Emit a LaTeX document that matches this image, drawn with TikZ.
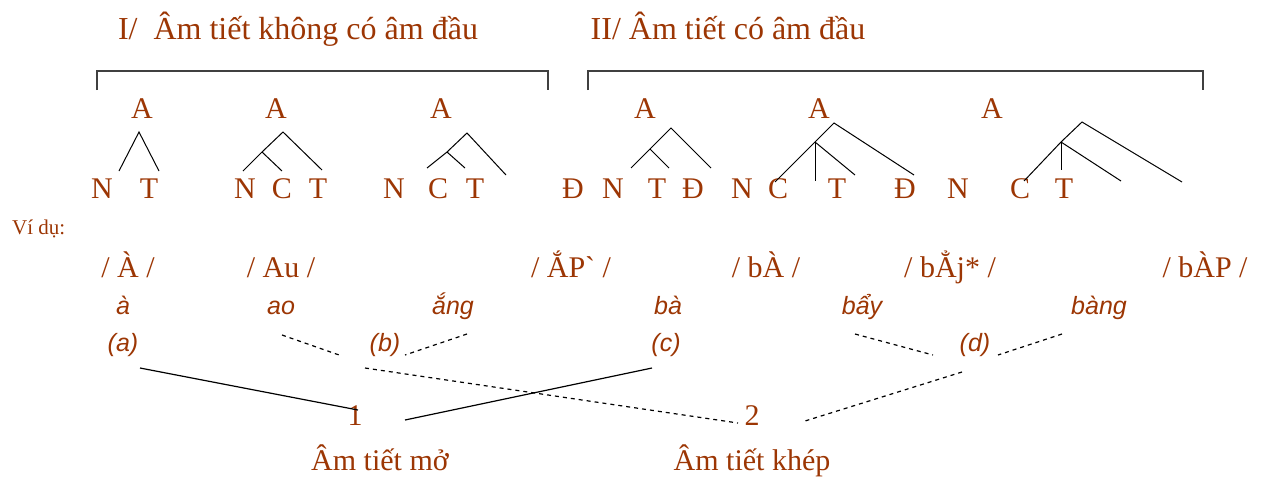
\documentclass[tikz,border=0pt]{standalone}
\usepackage{fontspec}
\setmainfont{Liberation Serif}
\newfontfamily\exfont{Liberation Sans}
\definecolor{rust}{RGB}{156,54,4}

\tikzset{
  head/.style={text=rust, inner sep=0pt, anchor=base, font=\fontsize{32}{38}\selectfont},
  lbl/.style={text=rust, inner sep=0pt, anchor=base, font=\fontsize{30}{36}\selectfont},
  word/.style={text=rust, inner sep=0pt, anchor=base, font=\exfont\itshape\fontsize{25}{30}\selectfont},
  branch/.style={black, line width=1pt},
  bracket/.style={black!75, line width=1.5pt},
  openlink/.style={black, line width=1.2pt},
  closedlink/.style={black, line width=1.2pt, dash pattern=on 4pt off 4pt}
}

\begin{document}
\begin{tikzpicture}[x=1pt,y=-1pt]
\useasboundingbox (0,0) rectangle (1265,477);

% headings and brackets
\node[head] (titleI) at (298,39) {I/\ \ Âm tiết không có âm đầu};
\node[head] (titleII) at (728,39) {II/ Âm tiết có âm đầu};
\coordinate (brIa) at (97,90);  \coordinate (brIb) at (548,90);
\coordinate (brIIa) at (588,90); \coordinate (brIIb) at (1203,90);
\draw[bracket] (brIa) -- ++(0,-19) -| (brIb);
\draw[bracket] (brIIa) -- ++(0,-19) -| (brIIb);

% roots
\node[lbl] (rootA) at (142,118) {A};
\node[lbl] (rootB) at (276,118) {A};
\node[lbl] (rootC) at (441,118) {A};
\node[lbl] (rootD) at (645,118) {A};
\node[lbl] (rootE) at (819,118) {A};
\node[lbl] (rootF) at (992,118) {A};

% segment labels
\node[lbl] (nA) at (102,198) {N};
\node[lbl] (tA) at (149,198) {T};
\node[lbl] (nB) at (245,198) {N};
\node[lbl] (cB) at (282,198) {C};
\node[lbl] (tB) at (318,198) {T};
\node[lbl] (nC) at (394,198) {N};
\node[lbl] (cC) at (438,198) {C};
\node[lbl] (tC) at (475,198) {T};
\node[lbl] (dD) at (573,198) {Đ};
\node[lbl] (nD) at (613,198) {N};
\node[lbl] (tD) at (657,198) {T};
\node[lbl] (eD) at (693,198) {Đ};
\node[lbl] (nE) at (742,198) {N};
\node[lbl] (cE) at (778,198) {C};
\node[lbl] (tE) at (837,198) {T};
\node[lbl] (eE) at (905,198) {Đ};
\node[lbl] (nF) at (958,198) {N};
\node[lbl] (cF) at (1020,198) {C};
\node[lbl] (tF) at (1064,198) {T};

% trees
\coordinate (apA) at (139,132);
\coordinate (lfA) at (119,171); \coordinate (rtA) at (159,171);
\draw[branch] (lfA) -- (apA) -- (rtA);

\coordinate (apB) at (283,132); \coordinate (mdB) at (262,152);
\coordinate (lfB) at (243,171); \coordinate (miB) at (282,171); \coordinate (rtB) at (322,170);
\draw[branch] (lfB) -- (mdB) -- (apB) -- (rtB);
\draw[branch] (mdB) -- (miB);

\coordinate (apC) at (467,133); \coordinate (mdC) at (447,152);
\coordinate (lfC) at (427,168); \coordinate (miC) at (465,168); \coordinate (rtC) at (506,175);
\draw[branch] (lfC) -- (mdC) -- (apC) -- (rtC);
\draw[branch] (mdC) -- (miC);

\coordinate (apD) at (671,128); \coordinate (mdD) at (650,149);
\coordinate (lfD) at (631,168); \coordinate (miD) at (669,168); \coordinate (rtD) at (711,168);
\draw[branch] (lfD) -- (mdD) -- (apD) -- (rtD);
\draw[branch] (mdD) -- (miD);

\coordinate (apE) at (834,123); \coordinate (mdE) at (815,142);
\coordinate (lfE) at (775,182); \coordinate (vtE) at (815,181);
\coordinate (miE) at (855,175); \coordinate (rtE) at (914,175);
\draw[branch] (lfE) -- (mdE) -- (apE) -- (rtE);
\draw[branch] (mdE) -- (vtE);
\draw[branch] (mdE) -- (miE);

\coordinate (apF) at (1082,122); \coordinate (mdF) at (1061,142);
\coordinate (lfF) at (1024,181); \coordinate (vtF) at (1061,170);
\coordinate (miF) at (1121,181); \coordinate (rtF) at (1182,182);
\draw[branch] (lfF) -- (mdF) -- (apF) -- (rtF);
\draw[branch] (mdF) -- (vtF);
\draw[branch] (mdF) -- (miF);

% examples
\node[text=rust, inner sep=0pt, anchor=base west, font=\fontsize{21}{25}\selectfont] (vidu) at (12,234) {Ví dụ:};
\node[lbl] (phA) at (128,277) {/ À /};
\node[lbl] (phB) at (281,277) {/ Au /};
\node[lbl] (phC) at (571,277) {/ ẮP\textasciigrave{} /};
\node[lbl] (phD) at (766,277) {/ bÀ /};
\node[lbl] (phE) at (950,277) {/ bẲj* /};
\node[lbl] (phF) at (1205,277) {/ bÀP /};

\node[word] (wA) at (123,314) {à};
\node[word] (wB) at (281,314) {ao};
\node[word] (wC) at (453,314) {ắng};
\node[word] (wD) at (668,314) {bà};
\node[word] (wE) at (862,314) {bẩy};
\node[word] (wF) at (1099,314) {bàng};

\node[word] (ga) at (123,351) {(a)};
\node[word] (gb) at (385,351) {(b)};
\node[word] (gc) at (666,351) {(c)};
\node[word] (gd) at (975,351) {(d)};

% groupings
\coordinate (bL) at (282,335); \coordinate (bLe) at (342,356);
\coordinate (bR) at (467,334); \coordinate (bRe) at (405,355);
\coordinate (dL) at (855,334); \coordinate (dLe) at (933,355);
\coordinate (dR) at (1062,334); \coordinate (dRe) at (998,355);
\draw[closedlink] (bL) -- (bLe);
\draw[closedlink] (bR) -- (bRe);
\draw[closedlink] (dL) -- (dLe);
\draw[closedlink] (dR) -- (dRe);

% open / closed
\node[lbl] (one) at (355,425) {1};
\node[lbl] (two) at (752,425) {2};
\node[lbl] (open) at (380,470) {Âm tiết mở};
\node[lbl] (closed) at (752,470) {Âm tiết khép};

\coordinate (aLow) at (140,368); \coordinate (oneL) at (358,410);
\coordinate (cLow) at (652,368); \coordinate (oneR) at (405,420);
\coordinate (bLow) at (365,368); \coordinate (twoL) at (738,423);
\coordinate (dLow) at (962,372); \coordinate (twoR) at (805,421);
\draw[openlink] (aLow) -- (oneL);
\draw[openlink] (cLow) -- (oneR);
\draw[closedlink] (bLow) -- (twoL);
\draw[closedlink] (dLow) -- (twoR);
\end{tikzpicture}
\end{document}
